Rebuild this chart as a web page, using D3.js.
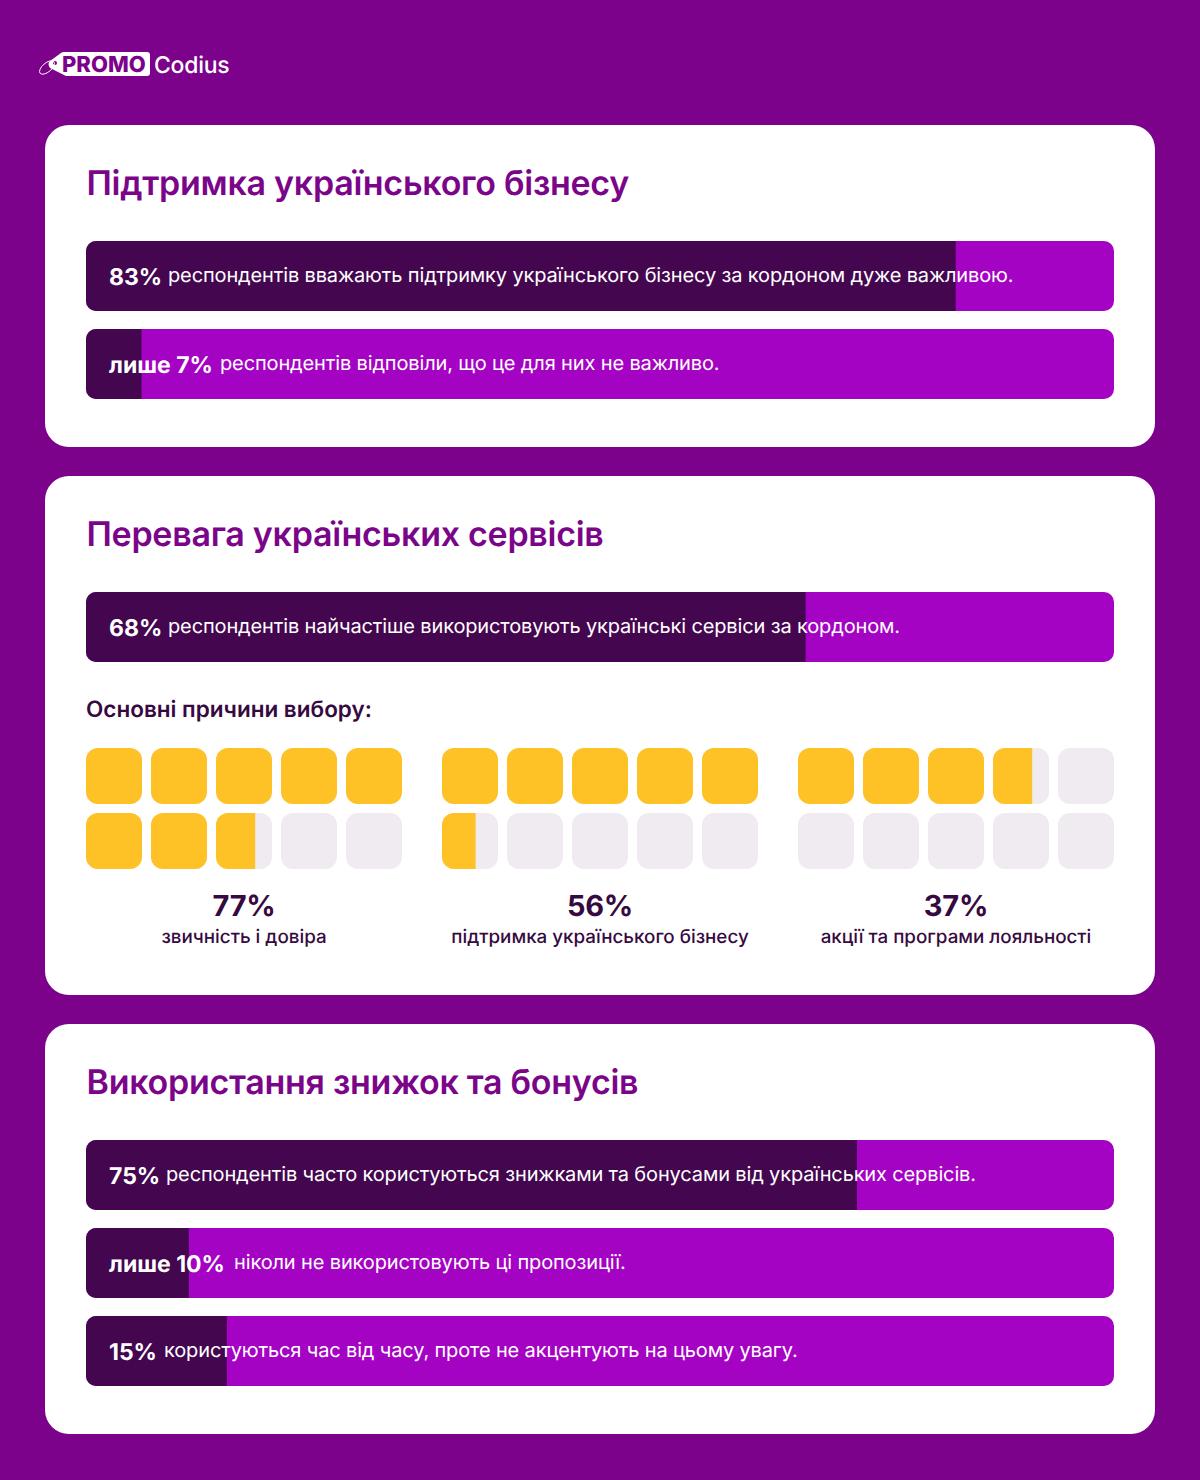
<!DOCTYPE html>
<html>
<head>
<meta charset="utf-8">
<script src="https://cdn.jsdelivr.net/npm/d3@7/dist/d3.min.js"></script>
<style>
html,body{margin:0;padding:0;background:#7c018b;}
svg{display:block;font-family:Inter,sans-serif;text-rendering:geometricPrecision;}
</style>
</head>
<body>
<div id="chart"></div>
<script>
// section titles
var titles = ["Підтримка українського бізнесу", "Перевага українських сервісів", "Використання знижок та бонусів"];

// bars: bold label, rest of the sentence, drawn share
var barBold = ["83%", "лише 7%", "68%", "75%", "лише 10%", "15%"];
var barText = [
	"респондентів вважають підтримку українського бізнесу за кордоном дуже важливою.",
	"респондентів відповіли, що це для них не важливо.",
	"респондентів найчастіше використовують українські сервіси за кордоном.",
	"респондентів часто користуються знижками та бонусами від українських сервісів.",
	"ніколи не використовують ці пропозиції.",
	"користуються час від часу, проте не акцентують на цьому увагу."
];
var barFill = [84.6, 5.4, 70, 75, 10, 13.7];

// waffles
var reasonsTitle = "Основні причини вибору:";
var reasonValue = [77, 56, 37];
var reasonLabel = ["звичність і довіра", "підтримка українського бізнесу", "акції та програми лояльності"];

var cols = {bg:"#7c018b", card:"#ffffff", title:"#7b0589", bright:"#a503c3", dark:"#43064f", text:"#360a40", yellow:"#ffc226", empty:"#efebf0"};

var width = 1200, height = 1480;
var svg = d3.select("#chart").append("svg").attr("width", width).attr("height", height);
svg.append("rect").attr("width", width).attr("height", height).attr("fill", cols.bg);
var defs = svg.append("defs");

// logo
var logo = svg.append("g").attr("transform", "translate(38,52)");
logo.append("path")
	.attr("d", "M12,9 L23,1 Q24,0 26,0 L109,0 Q112,0 112,3 L112,21 Q112,24 109,24 L29,24 Q27,24 26,23 L12,16 Q9,12 12,9 Z")
	.attr("fill", "#ffffff");
logo.append("circle").attr("cx", 17).attr("cy", 11).attr("r", 2).attr("fill", cols.bg);
logo.append("ellipse").attr("cx", 9).attr("cy", 15.5).attr("rx", 9).attr("ry", 4.5)
	.attr("transform", "rotate(-40 9 15.5)")
	.attr("fill", "none").attr("stroke", "#ffffff").attr("stroke-width", 0.9);
logo.append("text").attr("x", 24).attr("y", 20).attr("font-size", 22).attr("font-weight", 800)
	.attr("fill", cols.bg).text("PROMO");
logo.append("text").attr("x", 116).attr("y", 21).attr("font-size", 23).attr("font-weight", 500).attr("letter-spacing", -0.25)
	.attr("fill", "#ffffff").text("Codius");

// cards
var cardTop = [125, 476, 1024], cardBottom = [447, 995, 1434];
var cardX = d3.scaleLinear().domain([0, 1]).range([45, 1155]);
svg.selectAll("rect.card").data(titles).enter().append("rect").classed("card", true)
	.attr("x", cardX(0)).attr("width", cardX(1) - cardX(0))
	.attr("y", function(d, i){return cardTop[i]})
	.attr("height", function(d, i){return cardBottom[i] - cardTop[i]})
	.attr("rx", 24).attr("fill", cols.card);

svg.selectAll("text.title").data(titles).enter().append("text").classed("title", true)
	.attr("x", 86.5).attr("y", function(d, i){return cardTop[i] + 70})
	.attr("font-size", 34).attr("font-weight", 600).attr("letter-spacing", -0.27).attr("fill", cols.title)
	.text(function(d){return d});

// bars
var x = d3.scaleLinear().domain([0, 100]).range([86, 1114]);
var barTop = [241, 329, 592, 1140, 1228, 1316];
var barTextX = [168, 220, 168, 166, 234, 164]; //sentence start, depends on the bold label
var barH = 70;

var bars = svg.selectAll("g.bar").data(barBold).enter().append("g").classed("bar", true)
	.attr("transform", function(d, i){return "translate(0," + barTop[i] + ")"});

bars.each(function(d, i){
	defs.append("clipPath").attr("id", "bar-clip-" + i).append("rect")
		.attr("x", x(0)).attr("width", x(100) - x(0)).attr("height", barH).attr("rx", 10);
});
var barInner = bars.append("g").attr("clip-path", function(d, i){return "url(#bar-clip-" + i + ")"});
barInner.append("rect").attr("x", x(0)).attr("width", x(100) - x(0)).attr("height", barH).attr("fill", cols.bright);
barInner.append("rect").attr("x", x(0)).attr("width", function(d, i){return x(barFill[i]) - x(0)})
	.attr("height", barH).attr("fill", cols.dark);

bars.append("text").attr("x", 109).attr("y", 44).attr("fill", "#ffffff")
	.attr("font-size", 23).attr("font-weight", 700).text(function(d){return d});
bars.append("text").attr("x", function(d, i){return barTextX[i]}).attr("y", 41).attr("fill", "#ffffff")
	.attr("font-size", 20).attr("font-weight", 400).attr("letter-spacing", -0.14)
	.text(function(d, i){return barText[i]});

// waffles
svg.append("text").attr("x", 86).attr("y", 717).attr("font-size", 22.5).attr("font-weight", 600)
	.attr("fill", cols.text).text(reasonsTitle);

var cell = 56, cellStep = 65;
var wx = d3.scaleLinear().domain([0, 1]).range([0, cellStep]);
var wy = d3.scaleLinear().domain([0, 1]).range([0, cellStep]);
var waffleLeft = [86, 442, 798];
var cells = d3.range(10);

var waffles = svg.selectAll("g.waffle").data(reasonValue).enter().append("g").classed("waffle", true)
	.attr("transform", function(d, i){return "translate(" + waffleLeft[i] + ",748)"});

waffles.each(function(v, w){
	var g = d3.select(this);
	cells.forEach(function(c){
		var cx = wx(c % 5), cy = wy(Math.floor(c / 5));
		var share = Math.max(0, Math.min(1, v / 10 - c));
		var id = "cell-" + w + "-" + c;
		defs.append("clipPath").attr("id", id).append("rect")
			.attr("x", cx).attr("y", cy).attr("width", cell).attr("height", cell).attr("rx", 12);
		var cg = g.append("g").attr("clip-path", "url(#" + id + ")");
		cg.append("rect").attr("x", cx).attr("y", cy).attr("width", cell).attr("height", cell).attr("fill", cols.empty);
		cg.append("rect").attr("x", cx).attr("y", cy).attr("width", cell * share).attr("height", cell).attr("fill", cols.yellow);
	});
	var mid = (wx(4) + cell) / 2;
	g.append("text").attr("x", mid).attr("y", 168).attr("text-anchor", "middle")
		.attr("font-size", 29).attr("font-weight", 700).attr("letter-spacing", -0.2).attr("fill", cols.text).text(v + "%");
	g.append("text").attr("x", mid).attr("y", 195).attr("text-anchor", "middle")
		.attr("font-size", 18.8).attr("font-weight", 500).attr("fill", cols.text).text(reasonLabel[w]);
});
</script>
</body>
</html>
